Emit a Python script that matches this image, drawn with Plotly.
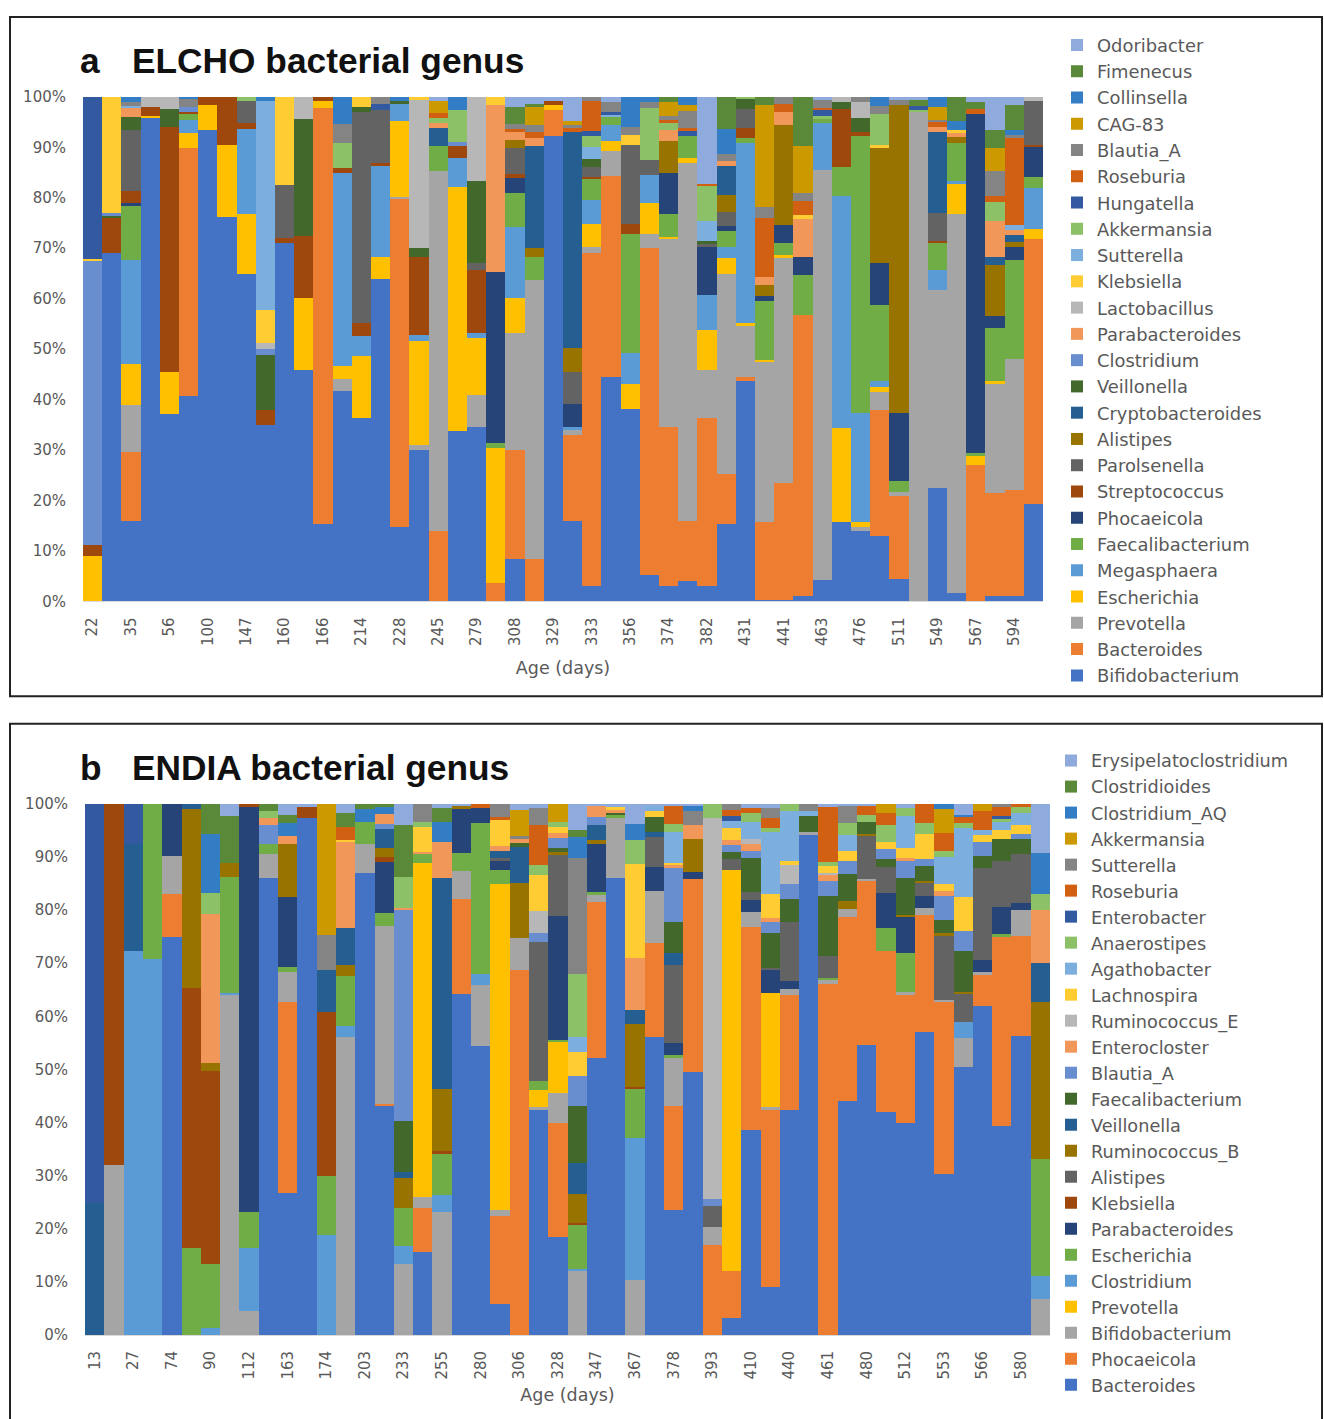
import plotly.graph_objects as go

# ---------------- shared ----------------
SAMPLES = list(range(1, 51))          # sample order on the x axis (50 samples per cohort)
PALETTE = ["#4472C4", "#ED7D31", "#A5A5A5", "#FFC000", "#5B9BD5", "#70AD47",
           "#264478", "#9E480E", "#636363", "#997300", "#255E91", "#43682B",
           "#698ED0", "#F1975A", "#B7B7B7", "#FFCD33", "#7CAFDD", "#8CC168",
           "#335AA1", "#D26012", "#848484", "#CC9A00", "#327DC3", "#5A8A39", "#8FAADC"]

# ---------------- panel a : ELCHO ----------------
A_AGE_LABELS = ["22", "35", "56", "100", "147", "160", "166", "214", "228", "245", "279", "308", "329",
                "333", "356", "374", "382", "431", "441", "463", "476", "511", "549", "567", "594"]
A_GENERA = ["Bifidobacterium", "Bacteroides", "Prevotella", "Escherichia", "Megasphaera",
            "Faecalibacterium", "Phocaeicola", "Streptococcus", "Parolsenella", "Alistipes",
            "Cryptobacteroides", "Veillonella", "Clostridium", "Parabacteroides", "Lactobacillus",
            "Klebsiella", "Sutterella", "Akkermansia", "Hungatella", "Roseburia", "Blautia_A",
            "CAG-83", "Collinsella", "Fimenecus", "Odoribacter"]

a_bifidobacterium = [0, 69, 16, 96, 37.2, 40.8, 93.5, 76.3, 65, 35,
                     71, 45.8, 15.4, 41.8, 36.4, 63.9, 14.8, 30, 0, 33.8,
                     34.6, 0, 8.5, 0, 92.2, 16, 3, 44.6, 38.2, 5.2,
                     3, 4, 3, 15.4, 43.8, 0.4, 0.3, 1, 4.2, 15.7,
                     14, 13, 4.4, 0, 22.5, 1.6, 0, 1, 1, 19.3]
a_bacteroides = [0, 0, 13.7, 0, 0, 49.1, 0, 0, 0, 0,
                 0, 0, 82.4, 0, 0, 0, 64.9, 0, 14, 0,
                 0, 3.6, 21.5, 8.5, 5.2, 17, 66, 39.7, 0, 64.8,
                 31.6, 12, 33.3, 9.8, 0.8, 15.3, 23.2, 55.8, 0, 0,
                 0, 24.9, 16.5, 0, 0, 0, 27.1, 20.6, 21.2, 52.6]
a_prevotella = [0, 0, 9.2, 0, 0, 0, 0, 0, 0, 0,
                0, 0, 0, 2.4, 0, 0, 0.5, 1, 71.3, 0,
                6.4, 0, 23.3, 55.2, 0, 1, 1.3, 5, 0, 2.9,
                37.3, 71, 9.5, 39.8, 10, 31.7, 44.6, 0, 81.4, 0,
                0.7, 3.6, 0.9, 97, 39.3, 75.2, 0, 21.5, 25.8, 0]
a_escherichia = [9, 0, 8.1, 0.3, 8.2, 2.9, 4.9, 14.2, 11.8, 0,
                 0, 14.3, 1.5, 2.5, 12.3, 4.4, 15, 20.6, 0, 48.4,
                 11.3, 26.8, 6.8, 0, 1.1, 0, 4.6, 1.9, 4.9, 6.1,
                 0.3, 1, 8.1, 3, 0.6, 0.5, 0.5, 0, 0, 18.6,
                 1, 1, 0, 0, 0, 5.9, 1.7, 0.7, 0, 2]
a_megasphaera = [0, 0, 20.6, 0, 0, 2.6, 0, 0, 16.9, 0,
                 0, 0, 0, 38.3, 3.9, 18, 3.5, 1.3, 0, 5.8,
                 1, 0, 14.1, 0, 0, 0.6, 4.6, 3.2, 6.2, 5.6,
                 0, 0, 6.9, 2.3, 35.6, 0, 0, 0, 9.2, 46,
                 21.6, 1.3, 0, 0, 3.9, 0.7, 0, 0, 0, 8.1]
a_faecalibacterium = [0, 0, 10.8, 0, 0, 1.3, 0, 0, 0, 0,
                      0, 0, 0, 0, 0, 0, 0, 0, 4.9, 0,
                      0, 1, 6.8, 4.6, 0, 0, 4.2, 1.6, 23.6, 0,
                      4.6, 4.2, 0, 3.2, 1, 11.6, 2.4, 7.9, 0.8, 5.9,
                      54.9, 15, 2, 0, 5.5, 7.4, 0.6, 10.4, 19.6, 2.1]
a_phocaeicola = [0, 0, 0.5, 0, 0, 0, 0, 0, 0, 0,
                 0, 0, 0, 0, 0, 0, 0, 0, 0, 0,
                 0, 34, 3, 0, 0, 4.6, 0, 0, 0, 0,
                 8.2, 0, 9.5, 1, 0, 1, 3.7, 3.6, 0, 0,
                 0, 8.3, 13.5, 0, 0, 0, 67.3, 2.3, 2.7, 6.1]
a_streptococcus = [2.3, 7, 2.5, 1.7, 48.7, 0.3, 1.6, 9.5, 1.1, 2.9,
                   1, 12.3, 0.7, 1, 2.6, 0.7, 0, 15.4, 0, 2.2,
                   12.4, 0, 0.8, 0, 0.7, 0, 0.4, 0, 1.9, 0,
                   0, 0, 0, 0, 2, 0, 0, 0, 0, 11.4,
                   0.9, 0, 0, 0, 0.3, 0, 0, 0, 0, 0.3]
a_parolsenella = [0, 0, 12.1, 0, 0, 0, 0, 0, 4.4, 0,
                  10.5, 0, 0, 0, 41.8, 10.4, 0, 0, 0, 0,
                  1.3, 0, 5.1, 0, 0, 6.2, 2, 0, 15.7, 3,
                  0, 0, 0.6, 2.8, 3.9, 0, 0, 0, 0, 0,
                  0, 0, 0, 0, 5.6, 0, 0, 0, 0, 8.8]
a_alistipes = [0, 0, 0, 0, 0, 0, 0, 0, 0, 0,
               0, 0, 0, 0, 0, 0, 0, 0, 0, 0,
               0, 0, 1.6, 1.7, 0, 4.9, 0, 0, 0, 0,
               6.2, 0, 0, 3.2, 0, 2.2, 19.7, 0, 0, 0,
               0, 22.8, 61.1, 0, 0, 1.3, 0, 10.2, 1, 0]
a_cryptobacteroides = [0, 0, 0, 0, 0, 0, 0, 0, 0, 0,
                       0, 0, 0, 0, 0, 0, 0, 0, 3.6, 0,
                       0, 0, 0, 20.2, 0, 42.8, 0, 0, 0, 0,
                       0, 0, 0, 5.9, 0, 0, 0, 0, 0, 0,
                       0, 0, 0, 0, 16, 0, 0, 1.6, 1.3, 0]
a_veillonella = [0, 0.5, 2.5, 0, 3.6, 0, 0, 0, 0, 10.9,
                 0, 23.2, 0, 0, 1, 0, 0.6, 1.8, 0, 0,
                 16.3, 0, 0, 0, 0, 0, 1.6, 0, 0, 0,
                 0, 0, 0.6, 0, 2, 0, 0, 0, 0, 1.4,
                 2.7, 0, 0, 0, 0, 0, 0, 0, 0, 0]
a_clostridium = [56.2, 0.5, 0, 0, 0, 1, 0, 0, 0, 1.3,
                 0, 0, 0, 0, 0, 0, 0, 0, 0, 0.8,
                 0, 0, 0, 0, 0, 0, 0, 0, 0, 0,
                 0, 0, 0, 0, 0, 0, 0, 0, 0, 0,
                 0, 0, 0, 0, 0, 0, 0, 0, 0, 0]
a_parabacteroides = [0, 0, 2, 0, 0, 0, 0, 0, 0, 0,
                     0, 0, 0, 0, 0, 0, 0, 0, 1, 0,
                     0, 33, 1.6, 1.6, 0, 0, 0, 0, 0, 0,
                     2.3, 0, 0, 1, 0, 1.7, 2.6, 7.6, 0, 0,
                     0, 0, 0, 0, 1, 0.7, 0, 7.2, 1.1, 0]
a_lactobacillus = [0, 0, 0, 2, 2.3, 0, 0, 0, 0, 1.1,
                   0, 4.4, 0, 0, 0, 0, 0, 29.4, 0, 0,
                   16.7, 0, 0, 0, 0, 0, 0, 0, 0, 0,
                   0, 0, 0, 0, 0, 0, 0, 0, 0, 1,
                   3.2, 0, 0, 0, 0, 0, 0, 0, 0, 0.7]
a_klebsiella = [0.4, 23, 0, 0, 0, 0, 0, 0, 0, 6.6,
                17.5, 0, 0, 0, 2, 0, 0, 0.5, 0, 0,
                0, 1.6, 0, 0, 0, 0, 0, 0, 2, 0,
                0, 0, 0, 0, 0, 0, 0, 0.7, 0, 0,
                0, 0.6, 0, 0, 0, 0.6, 0, 0, 0, 0]
a_sutterella = [0, 0, 0.3, 0, 0, 0, 0, 0, 0, 41.5,
                0, 0, 0, 0, 0, 0, 0, 0, 0, 0,
                0, 0, 0, 0, 0, 0, 2.3, 0.5, 0, 0,
                0, 0, 4, 0, 0, 0, 0, 0, 0, 0,
                0, 0, 0, 0, 0, 0, 0, 0, 1, 0]
a_akkermansia = [0, 0, 0, 0, 0, 0, 0, 0, 0.8, 0,
                 0, 0, 0, 4.8, 0, 0, 0, 0, 1.1, 6.5,
                 0, 0, 0, 0, 0, 0, 2.3, 0, 0, 10.2,
                 1.3, 0, 6.9, 0, 0.3, 0, 0, 0, 0.6, 0,
                 0, 6.2, 0, 0.5, 0, 0, 0, 3.6, 0, 0]
a_hungatella = [32.1, 0, 0, 0, 0, 0, 0, 0, 0, 0,
                0, 0, 0, 0, 0, 1.3, 0, 0, 0, 0,
                0, 0, 0, 0, 0, 0, 1, 0.5, 0, 0,
                0, 1, 0, 0, 0, 0, 0, 0, 1.3, 0,
                0, 0, 0, 0.8, 0, 0, 0, 0, 0, 0]
a_roseburia = [0, 0, 0, 0, 0, 0, 0, 0, 0, 0,
               0, 0, 0, 0, 0, 0, 0, 0, 1, 0,
               0, 0, 0.5, 1.3, 0, 0.7, 6, 0, 0, 0,
               0.7, 0.7, 0.3, 0, 0, 11.7, 1.6, 2.7, 0.4, 0,
               0, 0, 0, 0, 1, 0, 1, 1.3, 17.2, 0]
a_blautia_a = [0, 0, 0.8, 0, 0, 1.6, 0, 0, 0, 0,
               0, 0, 0, 3.8, 0, 1.3, 0, 0, 0, 0,
               0, 0, 1, 1.3, 0, 0.7, 0.7, 2, 1.6, 1.3,
               0.7, 3.3, 0, 1.3, 0, 2, 1.4, 1.7, 1.6, 0,
               1, 1.6, 1, 0, 0.3, 0, 0, 4.9, 0.6, 0]
a_cag83 = [0, 0, 0, 0, 0, 0, 0, 0, 0, 0,
           0, 0, 0, 0, 0, 0, 0, 0, 2.4, 0,
           0, 0, 0, 3.6, 0, 0.7, 0, 0, 0, 0,
           2.9, 1.3, 0, 0, 0, 20.3, 0, 9.2, 0, 0,
           0, 0, 0, 0, 2.6, 0, 0, 4.6, 0, 0]
a_collinsella = [0, 0, 0.9, 0, 0, 0.4, 0, 0, 0, 0.7,
                 0, 0, 0, 5.4, 0, 0, 0.7, 0, 0, 2.5,
                 0, 0, 0, 0, 0, 0, 0, 0, 5.9, 0.9,
                 0, 1.5, 0, 4.9, 0, 0, 0, 0, 0, 0,
                 0, 1.7, 0, 0, 2, 1.9, 0, 0, 0.9, 0]
a_fimenecus = [0, 0, 0, 0, 0, 0, 0, 0, 0, 0,
               0, 0, 0, 0, 0, 0, 0, 0, 0, 0,
               0, 0, 3.5, 0.7, 0, 0, 0, 0, 0, 0,
               0.9, 0, 0, 6.4, 0, 1.6, 0, 9.8, 0, 0,
               0, 0, 0, 1.2, 0, 4.7, 1.3, 3.6, 5.1, 0]
a_odoribacter = [0, 0, 0, 0, 0, 0, 0, 0, 0, 0,
                 0, 0, 0, 0, 0, 0, 0, 0, 0.7, 0,
                 0, 0, 1.9, 1.3, 0.8, 4.8, 0, 1, 0, 0,
                 0, 0, 17.3, 0, 0, 0, 0, 0, 0.5, 0,
                 0, 0, 0.6, 0.5, 0, 0, 1, 6.5, 1.5, 0]

A_VALUES = [a_bifidobacterium, a_bacteroides, a_prevotella, a_escherichia, a_megasphaera,
            a_faecalibacterium, a_phocaeicola, a_streptococcus, a_parolsenella, a_alistipes,
            a_cryptobacteroides, a_veillonella, a_clostridium, a_parabacteroides, a_lactobacillus,
            a_klebsiella, a_sutterella, a_akkermansia, a_hungatella, a_roseburia, a_blautia_a,
            a_cag83, a_collinsella, a_fimenecus, a_odoribacter]

# ---------------- panel b : ENDIA ----------------
B_AGE_LABELS = ["13", "27", "74", "90", "112", "163", "174", "203", "233", "255", "280", "306", "328",
                "347", "367", "378", "393", "410", "440", "461", "480", "512", "553", "566", "580"]
B_GENERA = ["Bacteroides", "Phocaeicola", "Bifidobacterium", "Prevotella", "Clostridium",
            "Escherichia", "Parabacteroides", "Klebsiella", "Alistipes", "Ruminococcus_B",
            "Veillonella", "Faecalibacterium", "Blautia_A", "Enterocloster", "Ruminococcus_E",
            "Lachnospira", "Agathobacter", "Anaerostipes", "Enterobacter", "Roseburia",
            "Sutterella", "Akkermansia", "Clostridium_AQ", "Clostridioides", "Erysipelatoclostridium"]

b_bacteroides = [0, 0, 0, 0, 74.9, 0, 0, 0, 0, 86,
                 26.7, 97.4, 0, 0, 87, 43.2, 0, 15.6, 0, 64.3,
                 54.4, 5.9, 0, 42.3, 18.5, 0, 52.1, 86.1, 0, 56.2,
                 23.5, 49.5, 0, 3.3, 38.6, 9.1, 42.3, 94.1, 0, 44,
                 54.6, 42, 39.9, 57, 30.3, 50.5, 61.9, 39.4, 56.4, 0]
b_phocaeicola = [0, 0, 0, 0, 8.1, 0, 0, 0, 0, 0,
                 36, 0, 0, 0, 0, 0.4, 0, 8.4, 0, 17.8,
                 0, 16.6, 68.7, 0, 21.5, 0, 29.5, 0, 0, 17.7,
                 19.6, 36.4, 17, 8.8, 38.3, 33.2, 21.7, 0, 66.1, 34.8,
                 30.9, 30.4, 24.1, 22.1, 32.5, 0, 5.9, 35.5, 18.8, 0]
b_bifidobacterium = [0, 32, 0, 0, 7.2, 0, 0, 64, 4.6, 4.6,
                     5.7, 0, 0, 56.2, 5.5, 33.5, 13.4, 2, 23.1, 5.2,
                     11.6, 1, 6.1, 0.7, 5.5, 12.1, 1.3, 11.3, 10.4, 9.7,
                     9, 0, 3.4, 0, 2.8, 0.7, 1.1, 0.7, 0.8, 1.5,
                     0.4, 0, 0.6, 1.3, 0.3, 5.5, 0.6, 0, 4.9, 6.8]
b_prevotella = [0, 0, 0, 0, 0, 0, 0, 0, 0, 0,
                0, 0, 0, 0, 0, 0, 0, 62.8, 0, 0,
                0, 61.5, 0, 3.2, 9.8, 0, 0, 0, 0, 0,
                0, 0, 0, 75.5, 0, 21.4, 0, 0, 0, 0,
                0, 0, 0, 0, 0, 0, 0, 0, 0, 0]
b_clostridium = [0, 0, 72.4, 70.9, 0, 0, 1.3, 0.5, 11.8, 0,
                 0, 0, 18.9, 2.1, 0, 0, 3.4, 0, 3.2, 0,
                 2, 0, 0, 0, 0, 0.3, 0, 0, 26.7, 0,
                 0, 0, 0, 0, 0, 0, 0, 0, 0, 0,
                 0, 0, 0, 0, 0, 2.9, 0, 0, 0, 4.3]
b_escherichia = [0, 0, 0, 29.1, 0, 16.4, 12.1, 21.7, 6.7, 1.9,
                 0.9, 0, 11, 9.4, 4.2, 2.3, 7.2, 1.9, 7.8, 3.5,
                 28.4, 2.6, 0, 1.6, 0.3, 8.4, 0.5, 0.7, 9.4, 0,
                 0.7, 0, 0, 0, 0, 0, 0, 0, 0.3, 0,
                 0, 4.2, 7.3, 0, 0, 0, 0, 0.6, 0, 22.1]
b_parabacteroides = [0, 0, 0, 0, 9.8, 0, 0, 0, 76.4, 0,
                     13.1, 0, 0, 0, 0, 9.7, 0, 0, 0, 8.2,
                     2.9, 1.6, 0, 0, 23.4, 0, 9.1, 0, 0, 4.5,
                     2.2, 1.3, 0, 0, 2.3, 4.3, 1.6, 0, 0, 0,
                     0, 6.7, 6.9, 2.3, 0, 0, 2.3, 5.2, 1.3, 0]
b_klebsiella = [0, 68, 0, 0, 0, 48.9, 36.4, 0, 0.5, 0,
                0, 2.1, 30.9, 0, 0, 1, 0, 0, 0.6, 0,
                0, 0, 0, 0, 0, 0.4, 0, 0, 0.3, 0,
                0, 0, 0, 0, 0, 0, 0, 0, 0, 0,
                0, 0, 0, 0, 0, 0, 0, 0, 0, 0]
b_alistipes = [0, 0, 0, 0, 0, 0, 0, 0, 0, 0,
               0, 0, 0, 0, 0, 0, 0, 0, 0, 0,
               0, 0.6, 0, 26.3, 11.4, 0, 0, 0, 0, 5.6,
               14.6, 0, 3.9, 2, 1.4, 0.4, 11.1, 0, 4.1, 0,
               8.2, 4.8, 0, 2.6, 12, 5.5, 17.2, 8.5, 9.1, 0]
b_ruminococcus_b = [0, 0, 0, 0, 0, 33.7, 1.5, 2.7, 0, 0,
                    10.1, 0, 0, 1.9, 0, 1.6, 5.5, 0, 11.7, 0.7,
                    0, 0, 10.4, 0, 0.6, 5.4, 0.7, 0, 11.8, 0,
                    0, 6.3, 0, 0, 0, 0, 0, 0, 0, 1.5,
                    0.3, 0, 0.3, 0.2, 0.7, 0.3, 0, 0, 0, 29.6]
b_veillonella = [24.8, 0, 20, 0, 0, 1, 0, 0, 0, 0,
                 0, 0, 8, 7, 0, 3.6, 1.3, 0, 39.7, 0,
                 0, 1.3, 6.7, 0, 0, 5.8, 2.8, 0, 2.7, 1,
                 2.3, 0, 0, 0, 0, 0, 0, 0, 0, 0,
                 0, 0, 0, 0, 0, 0, 0, 0, 0, 7.2]
b_faecalibacterium = [0, 0, 0, 0, 0, 0, 0, 0, 0, 0,
                      0, 0, 0, 0, 0, 0, 9.5, 0, 0, 0,
                      0, 0, 0.8, 0, 0.8, 10.8, 0, 0.3, 0, 2.9,
                      5.8, 0, 0, 1.3, 6.4, 6.7, 4.3, 2.9, 11.4, 5,
                      2.3, 1.5, 6.9, 2.9, 2.3, 7.7, 2.3, 4.3, 3, 0]
b_blautia_a = [0, 0, 0, 0, 0, 0, 0, 0, 0, 3.5,
               0, 0, 0, 0, 0, 1, 39.7, 0, 0, 0,
               0, 0, 0, 1.6, 1.8, 5.5, 1.6, 0, 0, 0,
               10.2, 0, 1.3, 1.3, 1.3, 2, 2.9, 0, 2.8, 2.4,
               0, 1.9, 3.2, 1.3, 4.6, 3.6, 2.6, 0, 0.9, 0]
b_enterocloster = [0, 0, 0, 0, 0, 0, 27.9, 0, 0, 1.3,
                   1.5, 0, 0, 16.3, 0, 1.9, 0.4, 0.3, 6.7, 0,
                   0, 1, 0.7, 0, 1, 0, 2, 0.5, 9.8, 0,
                   0.6, 2.6, 0, 1, 1.3, 0.7, 0, 0, 1.1, 0,
                   0, 0, 0.6, 0, 0.9, 0, 0, 0, 0, 10.1]
b_ruminococcus_e = [0, 0, 0, 0, 0, 0, 0, 0, 0, 0,
                    0, 0, 0, 0, 0, 0, 0, 0, 0, 0,
                    0, 0, 0, 4.1, 0, 0, 0, 0, 0, 0,
                    0, 0, 71.7, 0, 1, 0, 3.6, 0, 0.5, 0,
                    0, 0, 0, 0, 0, 0, 0, 0, 0, 0]
b_lachnospira = [0, 0, 0, 0, 0, 0, 0, 0, 0, 0,
                 0, 0, 0, 0.3, 0, 0, 0, 4.7, 0, 0,
                 0, 4.9, 0, 6.8, 1, 4.7, 0, 0.5, 17.6, 1,
                 0.4, 0, 0, 2.3, 0, 4.5, 0.6, 0, 1.3, 2,
                 0, 1.3, 2, 4.6, 1.3, 6.5, 1.3, 1.6, 1.7, 0]
b_agathobacter = [0, 0, 0, 0, 0, 0, 0, 0, 0, 0,
                  0, 0, 0, 0, 0, 0, 0, 0, 0, 0,
                  0, 0, 0, 0, 0, 2.8, 0, 0, 0, 1,
                  5.8, 0, 0, 1.3, 3.2, 11.7, 9.5, 1, 0, 2.9,
                  0, 0, 5.9, 0, 5.2, 13, 1, 1.6, 2.3, 0]
b_anaerostipes = [0, 0, 0, 0, 0, 0, 4.1, 0, 0, 1.3,
                  0, 0, 0, 0, 0, 0, 5.8, 1, 0, 0,
                  0, 0, 0, 2, 1, 11.8, 0, 0, 4.6, 0,
                  1.6, 0, 2.7, 0, 1.7, 0.7, 1.3, 0, 0.6, 2.3,
                  1.3, 3.3, 1.6, 2.2, 1, 1, 0, 0.5, 1, 2.9]
b_enterobacter = [75.2, 0, 7.6, 0, 0, 0, 0, 0, 0, 0,
                  0, 0, 0, 0, 0, 0, 0, 0, 0, 0,
                  0, 0, 0, 0, 0, 0, 0, 0, 0, 0,
                  0, 0, 0, 1, 0, 0, 0, 0, 0, 0,
                  0, 0, 0, 0, 0, 0, 0, 0.6, 0, 0]
b_roseburia = [0, 0, 0, 0, 0, 0, 0, 0, 0, 0,
               0, 0, 0, 2.5, 0, 0, 0, 0, 0, 0,
               0.7, 0.6, 0, 7.4, 0, 0, 0, 0, 0, 0,
               3.4, 0, 0, 1, 1, 1.9, 0, 0, 10.5, 0,
               1.7, 2.3, 0, 3.5, 3.4, 1, 3.6, 1.6, 0.6, 0]
b_sutterella = [0, 0, 0, 0, 0, 0, 0, 0, 0, 0,
                0, 0, 6.6, 0, 0, 0, 0, 3.3, 0, 0,
                0, 2.4, 0.5, 3.3, 0, 21.8, 0, 0, 0, 0,
                0, 2.6, 0, 1.2, 0, 2, 0, 1.3, 0, 3.3,
                0, 0, 0, 0, 0, 0, 0, 0.6, 0, 0]
b_akkermansia = [0, 0, 0, 0, 0, 0, 0, 0, 0, 0,
                 0, 0, 24.6, 0, 0, 0, 0, 0, 0, 0,
                 0, 0, 4.9, 0, 3.4, 0, 0, 0, 0, 0,
                 0, 0, 0, 0, 0, 0, 0, 0, 0, 0,
                 0, 1.6, 0, 0, 4.5, 0, 1.3, 0, 0, 0]
b_clostridium_aq = [0, 0, 0, 0, 0, 0, 11, 0, 0, 0,
                    2.4, 0, 0, 0, 2.3, 1.3, 0, 0, 3.9, 0,
                    0, 0, 0, 0, 0, 4, 0, 0, 3, 0,
                    0, 1, 0, 0, 0, 0, 0, 0, 0, 0,
                    0, 0, 0, 0, 1, 0.5, 0, 0, 0, 7.8]
b_clostridioides = [0, 0, 0, 0, 0, 0, 5.7, 8.8, 0, 1.4,
                    1.6, 0, 0, 2.7, 1, 0.5, 9.8, 0, 2.6, 0,
                    0, 0, 0, 0, 0, 1.3, 0, 0, 0, 0,
                    0, 0, 0, 0, 0, 0, 0, 0, 0, 0,
                    0, 0, 0, 0, 0, 0, 0, 0, 0, 0]
b_erysipelatoclostridium = [0, 0, 0, 0, 0, 0, 0, 2.3, 0, 0,
                            2, 0.5, 0, 1.6, 0, 0, 4, 0, 0.7, 0.3,
                            0, 0, 1.2, 0.7, 0, 4.9, 0.4, 0.6, 3.7, 0.4,
                            0.3, 0.3, 0, 0, 0.7, 0.7, 0, 0, 0.5, 0.3,
                            0.3, 0, 0.7, 0, 0, 2, 0, 0, 0, 9.2]

B_VALUES = [b_bacteroides, b_phocaeicola, b_bifidobacterium, b_prevotella, b_clostridium,
            b_escherichia, b_parabacteroides, b_klebsiella, b_alistipes, b_ruminococcus_b,
            b_veillonella, b_faecalibacterium, b_blautia_a, b_enterocloster, b_ruminococcus_e,
            b_lachnospira, b_agathobacter, b_anaerostipes, b_enterobacter, b_roseburia,
            b_sutterella, b_akkermansia, b_clostridium_aq, b_clostridioides, b_erysipelatoclostridium]

for vals in A_VALUES + B_VALUES:
    assert len(vals) == len(SAMPLES), len(vals)

# ---------------- figure ----------------
W, H = 1324, 1419
FONT = "'DejaVu Sans', 'Open Sans', sans-serif"
TXT = "#595959"

fig = go.Figure()
for name, vals, col in zip(A_GENERA, A_VALUES, PALETTE):
    fig.add_trace(go.Bar(x=SAMPLES, y=vals, name=name, marker=dict(color=col, line=dict(width=0)),
                         xaxis="x", yaxis="y", legend="legend"))
for name, vals, col in zip(B_GENERA, B_VALUES, PALETTE):
    fig.add_trace(go.Bar(x=SAMPLES, y=vals, name=name, marker=dict(color=col, line=dict(width=0)),
                         xaxis="x2", yaxis="y2", legend="legend2"))


def px_x(p):
    return p / W


def px_y(p):
    return 1 - p / H


xcommon = dict(range=[0.5, 50.5], tickmode="array", tickvals=SAMPLES[::2], tickangle=-90,
               showgrid=False, zeroline=False, showline=True, linecolor="#D9D9D9", linewidth=1,
               ticks="", ticklabelstandoff=9, tickfont=dict(family=FONT, size=15, color=TXT))
ycommon = dict(range=[0, 100], tickmode="linear", tick0=0, dtick=10, ticksuffix="%",
               showgrid=False, zeroline=False, showline=False, ticks="", ticklabelstandoff=16,
               tickfont=dict(family=FONT, size=15, color=TXT))
xtitle = dict(text="Age (days)", font=dict(family=FONT, size=17.5, color=TXT))

fig.update_layout(
    width=W, height=H, margin=dict(l=0, r=0, t=0, b=0),
    paper_bgcolor="white", plot_bgcolor="white",
    barmode="stack", bargap=0,
    xaxis=dict(domain=[px_x(83), px_x(1043)], anchor="y", ticktext=A_AGE_LABELS,
               title=dict(standoff=16, **xtitle), **xcommon),
    yaxis=dict(domain=[px_y(600), px_y(89)], anchor="x", **ycommon),
    xaxis2=dict(domain=[px_x(85), px_x(1050)], anchor="y2", ticktext=B_AGE_LABELS,
                title=dict(standoff=10, **xtitle), **xcommon),
    yaxis2=dict(domain=[px_y(1343), px_y(805)], anchor="x2", **ycommon),
    legend=dict(x=px_x(1057), y=px_y(18), xanchor="left", yanchor="top", traceorder="reversed",
                font=dict(family=FONT, size=17.9, color=TXT), bgcolor="rgba(0,0,0,0)",
                itemwidth=30, tracegroupgap=0),
    legend2=dict(x=px_x(1051), y=px_y(743), xanchor="left", yanchor="top", traceorder="reversed",
                 font=dict(family=FONT, size=17.7, color=TXT), bgcolor="rgba(0,0,0,0)",
                 itemwidth=30, tracegroupgap=0),
    showlegend=True,
)

# panel frames
fig.add_shape(type="rect", xref="paper", yref="paper", x0=px_x(10), x1=px_x(1322),
              y0=px_y(696), y1=px_y(8), line=dict(color="#222222", width=2))
fig.add_shape(type="rect", xref="paper", yref="paper", x0=px_x(10), x1=px_x(1322),
              y0=px_y(1440), y1=px_y(724), line=dict(color="#222222", width=2))

# panel titles
TITLE_FONT = dict(family="'Liberation Sans', Arial, sans-serif", size=35.3, color="#111111")
for letter, title, ypx in [("a", "ELCHO bacterial genus", 52), ("b", "ENDIA bacterial genus", 768)]:
    fig.add_annotation(x=px_x(78), y=px_y(ypx), xref="paper", yref="paper", text=f"<b>{letter}</b>",
                       showarrow=False, xanchor="left", yanchor="middle", font=TITLE_FONT)
    fig.add_annotation(x=px_x(130), y=px_y(ypx), xref="paper", yref="paper", text=f"<b>{title}</b>",
                       showarrow=False, xanchor="left", yanchor="middle", font=TITLE_FONT)

fig.write_html("out.html", config={"displayModeBar": False},
               post_script="document.body.style.margin='0px';")
